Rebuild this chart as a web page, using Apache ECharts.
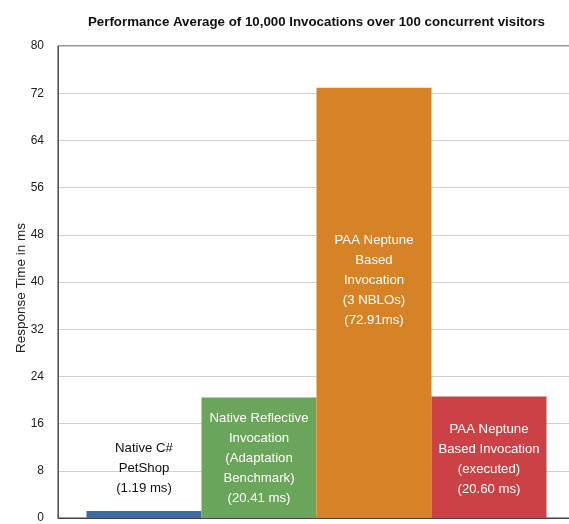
<!DOCTYPE html>
<html>
<head>
<meta charset="utf-8">
<script src="https://cdn.jsdelivr.net/npm/echarts@6/dist/echarts.min.js"></script>
<style>
  html, body { margin: 0; padding: 0; background: #fff; overflow: hidden; }
  #main { width: 575px; height: 524px; }
</style>
</head>
<body>
<div id="main"></div>
<script>
// data
const names = ['Native C#', 'Native Reflective', 'PAA Neptune Based', 'PAA Neptune executed'];
const values = [1.19, 20.41, 72.91, 20.60];
const labels = [
  'Native C#\nPetShop\n(1.19 ms)',
  'Native Reflective\nInvocation\n(Adaptation\nBenchmark)\n(20.41 ms)',
  'PAA Neptune\nBased\nInvocation\n(3 NBLOs)\n(72.91ms)',
  'PAA Neptune\nBased Invocation\n(executed)\n(20.60 ms)'
];
const colors = ['#3e6da5', '#6aa55b', '#d68226', '#cc4146'];
const yTicks = [0, 8, 16, 24, 32, 40, 48, 56, 64, 72, 80];
const yName = 'Response Time in ms';

const labelPos = [
  {position: 'top', distance: 13, color: '#111'},
  {position: 'insideTop', distance: 11, color: '#fff'},
  {position: 'inside', offset: [0, -23], color: '#fff'},
  {position: 'insideTop', distance: 23, color: '#fff'}
];

const myChart = echarts.init(document.getElementById('main'));
const option = {
  animation: false,
  title: {
    text: 'Performance Average of 10,000 Invocations over 100 concurrent visitors',
    left: 83,
    top: 11,
    textStyle: {fontFamily: 'Liberation Sans', fontSize: 13.3, fontWeight: 'bold', color: '#111'}
  },
  // axis name drawn by hand so it can sit close to the tick labels
  graphic: [{
    type: 'text',
    x: 21,
    y: 288,
    rotation: Math.PI / 2,
    style: {
      text: yName,
      textAlign: 'center',
      textVerticalAlign: 'middle',
      fontFamily: 'Liberation Sans',
      fontSize: 13.5,
      fill: '#222'
    }
  }],
  grid: {
    left: 58, right: 0, top: 46, bottom: 4,
    show: true, borderColor: '#333', borderWidth: 1
  },
  xAxis: {
    type: 'category',
    data: [''],
    axisLine: {lineStyle: {color: '#444'}},
    axisTick: {show: false},
    axisLabel: {show: false}
  },
  yAxis: {
    type: 'value',
    min: yTicks[0],
    max: yTicks[yTicks.length - 1],
    interval: 8,
    axisLine: {show: true, lineStyle: {color: '#555'}},
    axisTick: {show: false},
    axisLabel: {margin: 14, fontFamily: 'Liberation Sans', fontSize: 12, color: '#222'},
    splitLine: {lineStyle: {color: '#cfcfcf', width: 1}}
  },
  series: names.map((n, i) => ({
    name: n,
    type: 'bar',
    barWidth: 115,
    barGap: '0%',
    data: [values[i]],
    itemStyle: {color: colors[i]},
    label: Object.assign({
      show: true,
      formatter: labels[i],
      fontFamily: 'Liberation Sans',
      fontSize: 13.2,
      lineHeight: 20,
      align: 'center'
    }, labelPos[i])
  }))
};
option && myChart.setOption(option);
</script>
</body>
</html>
